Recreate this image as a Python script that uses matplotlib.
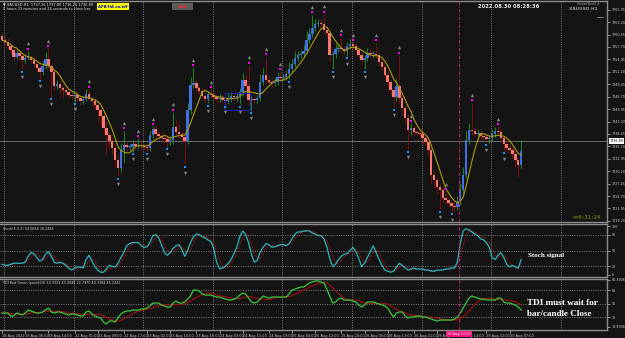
import numpy as np
import pandas as pd
import matplotlib
matplotlib.use("Agg")
import matplotlib.pyplot as plt
import matplotlib.transforms as mtransforms
from matplotlib.patches import Rectangle
from matplotlib.lines import Line2D

# ---------------- data ----------------
first_open = 1760.1
closes = [
    1759.2, 1758.8, 1757.9, 1757.0, 1755.5, 1756.4, 1755.7, 1754.8, 1755.3, 1755.5,
    1754.8, 1753.9, 1753.0, 1752.2, 1753.5, 1755.0, 1753.5, 1752.2, 1749.1, 1749.5,
    1748.6, 1748.2, 1747.7, 1747.1, 1746.8, 1747.1, 1746.4, 1745.7, 1746.2, 1747.3,
    1746.2, 1745.7, 1744.8, 1743.7, 1742.4, 1739.8, 1738.2, 1736.9, 1735.3, 1732.7,
    1730.9, 1734.9, 1736.0, 1735.6, 1735.6, 1736.2, 1735.8, 1736.0, 1735.8, 1735.6,
    1735.3, 1738.2, 1739.5, 1738.4, 1738.0, 1737.5, 1737.3, 1736.7, 1737.1, 1740.0,
    1738.9, 1738.4, 1737.8, 1736.9, 1743.7, 1749.3, 1749.7, 1748.6, 1748.0, 1746.8,
    1746.2, 1747.3, 1747.1, 1746.6, 1746.2, 1746.4, 1746.0, 1745.7, 1746.4, 1746.8,
    1746.6, 1746.8, 1747.7, 1750.4, 1749.1, 1746.0, 1746.2, 1746.0, 1746.4, 1749.9,
    1751.5, 1750.4, 1749.9, 1749.7, 1749.9, 1751.0, 1750.8, 1751.0, 1751.7, 1752.8,
    1753.9, 1755.3, 1755.9, 1756.1, 1756.8, 1759.2, 1760.6, 1761.9, 1762.8, 1763.0,
    1762.8, 1761.5, 1760.8, 1755.9, 1756.1, 1757.3, 1757.5, 1757.3, 1756.8, 1757.9,
    1758.4, 1757.9, 1757.0, 1755.9, 1754.8, 1755.3, 1756.4, 1756.1, 1756.1, 1755.9,
    1754.4, 1753.3, 1751.5, 1749.9, 1748.2, 1746.6, 1749.1, 1746.4, 1744.2, 1742.0,
    1739.3, 1739.8, 1738.9, 1738.7, 1738.4, 1737.5, 1736.7, 1734.9, 1729.4, 1728.2,
    1726.7, 1726.0, 1724.3, 1723.8, 1723.1, 1722.5, 1722.3, 1723.4, 1726.0, 1729.4,
    1737.1, 1739.3, 1739.1, 1738.4, 1738.7, 1738.0, 1737.8, 1737.3, 1737.5, 1738.4,
    1739.1, 1738.9, 1737.5, 1736.2, 1735.3, 1734.9, 1734.0, 1732.7, 1731.6, 1734.7]

upper_wick = [
    0.6, 0.4, 0.8, 0.5, 0.7, 0.9, 0.5, 0.6, 0.8, 1.3,
    0.5, 0.7, 0.4, 0.6, 1.2, 1.5, 2.4, 0.5, 0.6, 0.8,
    0.5, 0.6, 1.0, 0.4, 0.6, 0.5, 0.7, 0.4, 0.6, 1.0,
    1.1, 0.5, 0.6, 0.8, 1.2, 0.9, 1.4, 0.7, 0.6, 0.8,
    1.0, 1.5, 3.2, 0.8, 0.6, 0.9, 0.7, 1.5, 0.6, 0.5,
    0.7, 1.0, 0.6, 0.9, 0.8, 1.2, 0.6, 0.7, 0.8, 3.3,
    1.5, 2.0, 0.8, 0.6, 1.5, 1.8, 3.5, 1.0, 0.7, 0.6,
    0.8, 0.6, 1.0, 0.7, 0.5, 0.8, 0.6, 0.7, 1.2, 0.9,
    0.6, 0.8, 1.0, 1.5, 1.2, 4.6, 0.6, 0.5, 0.7, 1.8,
    1.5, 4.0, 0.8, 0.6, 0.9, 1.2, 1.2, 0.8, 1.0, 1.5,
    1.2, 1.5, 0.8, 1.0, 1.3, 2.0, 1.2, 2.9, 1.0, 0.9,
    0.8, 2.2, 0.7, 0.6, 0.8, 1.2, 0.9, 2.3, 0.6, 0.8,
    1.0, 0.3, 0.6, 0.8, 0.7, 0.6, 1.0, 0.8, 0.6, 2.5,
    0.6, 0.8, 0.5, 0.9, 0.7, 0.6, 1.5, 6.8, 0.7, 0.6,
    0.8, 1.0, 0.6, 0.7, 0.8, 0.6, 0.9, 0.7, 0.8, 1.0,
    0.7, 0.9, 0.6, 1.3, 0.7, 0.6, 0.8, 1.2, 1.5, 1.8,
    2.0, 1.5, 6.1, 0.9, 0.8, 0.7, 0.6, 0.8, 0.7, 1.2,
    0.9, 1.0, 0.7, 0.6, 0.8, 0.9, 0.7, 0.8, 0.6, 2.4]

lower_wick = [
    0.5, 0.8, 0.6, 0.9, 0.7, 0.5, 0.8, 2.0, 0.6, 0.5,
    0.7, 0.9, 0.6, 1.5, 0.8, 0.6, 0.7, 5.5, 0.9, 0.8,
    1.0, 1.8, 0.7, 0.6, 0.8, 1.2, 0.6, 0.9, 0.7, 0.5,
    0.6, 0.8, 0.9, 2.8, 2.2, 1.5, 4.5, 1.5, 1.2, 1.5,
    1.8, 0.9, 2.9, 1.2, 0.8, 1.1, 0.9, 0.7, 0.6, 0.8,
    0.7, 0.6, 0.8, 0.9, 0.7, 0.8, 0.6, 1.1, 0.7, 0.8,
    1.0, 0.8, 1.2, 5.3, 0.6, 0.8, 0.7, 0.9, 0.8, 0.6,
    0.7, 1.0, 0.8, 0.6, 0.9, 0.7, 0.6, 0.8, 0.7, 0.9,
    0.6, 0.8, 1.8, 0.9, 0.7, 1.2, 2.4, 0.8, 0.7, 0.6,
    0.7, 0.6, 0.9, 0.8, 0.7, 0.6, 0.8, 0.7, 0.6, 1.1,
    0.7, 0.6, 0.8, 0.6, 0.7, 0.5, 0.6, 0.7, 0.6, 0.5,
    0.7, 0.6, 0.8, 1.5, 3.1, 0.8, 0.7, 0.6, 0.8, 1.1,
    0.6, 0.8, 0.7, 0.9, 1.2, 2.0, 0.7, 0.6, 0.8, 0.7,
    0.8, 0.9, 0.7, 1.0, 1.2, 2.2, 0.8, 1.0, 1.5, 1.2,
    4.2, 1.0, 0.8, 0.7, 0.9, 1.2, 0.8, 1.5, 2.0, 1.8,
    1.5, 4.2, 1.0, 0.9, 0.8, 1.3, 0.8, 0.6, 0.7, 0.8,
    0.7, 0.8, 0.9, 0.7, 0.6, 0.8, 0.7, 0.7, 0.8, 0.6,
    0.7, 0.8, 0.9, 1.5, 1.0, 0.8, 1.2, 1.5, 2.6, 0.8]

top_fractals = [9, 16, 30, 42, 47, 52, 59, 66, 72, 85, 91, 96, 107, 111, 117,
                121, 129, 137, 141, 153, 162, 171]
bottom_fractals = [7, 13, 17, 25, 40, 45, 50, 57, 63, 71, 77, 82, 86, 99, 114,
                   119, 125, 135, 140, 151, 155, 167, 173]

stoch_main = [
    24, 22, 22, 24, 26, 26, 26, 26, 28, 39,
    46, 44, 37, 30, 33, 43, 48, 39, 28, 26,
    28, 26, 22, 17, 13, 17, 19, 19, 17, 33,
    41, 30, 20, 13, 9, 9, 15, 22, 20, 19,
    26, 37, 46, 59, 63, 65, 65, 65, 59, 56,
    57, 65, 78, 80, 74, 61, 46, 41, 46, 54,
    59, 61, 52, 39, 50, 65, 76, 81, 80, 76,
    74, 70, 67, 54, 28, 15, 17, 20, 26, 33,
    44, 57, 76, 87, 80, 65, 43, 28, 31, 46,
    56, 63, 61, 56, 57, 59, 61, 61, 59, 63,
    72, 81, 85, 85, 87, 87, 87, 83, 81, 78,
    78, 72, 57, 35, 20, 24, 33, 39, 43, 44,
    50, 56, 48, 35, 20, 26, 37, 48, 59, 46,
    33, 22, 13, 11, 9, 11, 19, 26, 22, 17,
    13, 15, 17, 15, 15, 15, 13, 13, 11, 11,
    13, 13, 13, 15, 15, 17, 17, 28, 63, 87,
    91, 89, 85, 81, 78, 72, 70, 65, 56, 37,
    33, 41, 46, 37, 24, 19, 22, 19, 17, 33]

tdi_green = [
    37.3, 37.3, 37.3, 33.3, 33.3, 37.3, 36.0, 34.7, 37.3, 41.3,
    40.0, 38.7, 37.3, 37.3, 38.7, 41.3, 44.0, 38.7, 37.3, 38.7,
    38.7, 37.3, 36.0, 34.7, 36.0, 36.0, 34.7, 33.3, 33.3, 38.7,
    40.0, 36.0, 33.3, 32.0, 30.7, 25.3, 22.7, 26.7, 26.7, 25.3,
    30.7, 36.0, 38.7, 40.0, 40.0, 41.3, 41.3, 41.3, 42.7, 42.7,
    44.0, 46.7, 50.7, 50.7, 50.7, 48.0, 46.7, 45.3, 45.3, 50.7,
    53.3, 50.7, 50.7, 52.0, 56.0, 60.0, 68.0, 68.0, 66.7, 62.7,
    61.3, 61.3, 61.3, 60.0, 58.7, 58.7, 57.3, 56.0, 54.7, 54.7,
    56.0, 57.3, 61.3, 64.0, 62.7, 57.3, 52.0, 50.7, 52.0, 56.0,
    60.0, 58.7, 57.3, 58.7, 58.7, 58.7, 58.7, 58.7, 58.7, 62.7,
    68.0, 69.3, 70.7, 72.0, 72.0, 74.7, 77.3, 78.7, 80.0, 80.0,
    78.7, 77.3, 69.3, 60.0, 50.7, 52.0, 56.0, 57.3, 54.7, 54.7,
    54.7, 53.3, 52.0, 48.0, 45.3, 48.0, 52.0, 52.0, 52.0, 50.7,
    49.3, 48.0, 46.7, 44.0, 37.3, 32.0, 37.3, 38.7, 38.7, 33.3,
    30.7, 32.0, 32.0, 33.3, 33.3, 32.0, 32.0, 30.7, 29.3, 28.0,
    26.7, 28.0, 28.0, 28.0, 28.0, 28.0, 29.3, 32.0, 37.3, 44.0,
    50.7, 57.3, 60.0, 58.7, 57.3, 56.0, 56.0, 54.7, 54.7, 54.7,
    54.7, 57.3, 57.3, 52.0, 50.7, 50.7, 49.3, 48.0, 45.3, 41.3]

price_levels = [1765.95, 1763.20, 1760.45, 1757.70, 1754.95, 1752.20, 1749.45,
                1746.70, 1743.95, 1741.20, 1738.45, 1735.70, 1732.95, 1730.20,
                1727.45, 1724.70, 1721.95, 1719.20]
current_price = 1736.89

x_labels = ["18 Aug 2022", "19 Aug 06:00", "19 Aug 14:00", "22 Aug 01:00",
            "22 Aug 09:00", "22 Aug 17:00", "23 Aug 02:00", "23 Aug 10:00",
            "23 Aug 18:00", "24 Aug 03:00", "24 Aug 11:00", "24 Aug 19:00",
            "25 Aug 04:00", "25 Aug 12:00", "25 Aug 20:00", "26 Aug 05:00",
            "26 Aug 13:00", "26 Aug 21:00", "29 Aug 06:00", "29 Aug 14:00",
            "29 Aug 22:00", "30 Aug 07:00"]
x_label_bars = [0, 8, 16, 25, 33, 42, 50, 58, 67, 75, 83, 92, 100, 108, 117,
                125, 133, 142, 150, 158, 167, 175]

stoch_levels = [80, 50, 20]
tdi_levels = [68, 50, 32]
cursor_label = "29 Aug 11:00"
rect_bars = (77, 85.5)
rect_prices = (1743.8, 1747.5)

# ---------------- derived ----------------
n = len(closes)
idx = np.arange(n)
c = np.array(closes)
o = np.array([first_open] + closes[:-1])
hi = np.maximum(o, c) + np.array(upper_wick)
lo = np.minimum(o, c) - np.array(lower_wick)
ma = pd.Series(c).rolling(6, min_periods=1).mean().values
stoch_sig = pd.Series(stoch_main).rolling(3, min_periods=1).mean().values
tdi_red = pd.Series(tdi_green).rolling(7, min_periods=1).mean().values

# ---------------- figure ----------------
W, H = 625, 338
BG = '#141414'
GRID = '#8a8a8a'
SPINE = '#8c8c8c'
fig = plt.figure(figsize=(W / 100, H / 100), dpi=100)
fig.patch.set_facecolor(BG)


def rect(x0, y0, x1, y1):
    return [x0 / W, 1 - y1 / H, (x1 - x0) / W, (y1 - y0) / H]


def fx(x):
    return x / W


def fy(y):
    return 1 - y / H


ax = fig.add_axes(rect(0, 1, 607, 222))
ax2 = fig.add_axes(rect(0, 224, 607, 277), sharex=ax)
ax3 = fig.add_axes(rect(0, 279, 607, 330), sharex=ax)

day_lines = np.arange(0.7, 205, 24.0)
cursor_bar = 157.6

for a in (ax, ax2, ax3):
    a.set_facecolor(BG)
    for s in ('top', 'right', 'bottom'):
        a.spines[s].set_color(SPINE)
        a.spines[s].set_linewidth(1.0)
    a.spines['left'].set_visible(False)
    for d in day_lines:
        a.axvline(d, color=GRID, lw=0.6, ls=(0, (1.2, 1.6)), zorder=1)
    a.axvline(cursor_bar, color='#b0226e', lw=0.8, ls=(0, (3, 1.5, 1, 1.5)), zorder=6)
    a.yaxis.tick_right()
    a.tick_params(axis='y', length=2, width=0.5, pad=1.2, labelsize=2.4,
                  colors='#c8c8c8')

ax.set_xlim(-0.69, 208.6)

# ---- main panel ----
ax.set_ylim(1718.95, 1767.88)
up = c >= o
wick_col = np.where(up, '#1f9a1f', '#8e0c0c')
ax.vlines(idx, lo, hi, colors=wick_col, lw=0.6, zorder=2)
body_h = np.maximum(np.abs(c - o), 0.2)
body_b = np.minimum(o, c)
ax.bar(idx, body_h, bottom=body_b, width=0.86,
       color=np.where(up, '#3f6fe0', '#f4796c'), edgecolor='none', zorder=3)
ax.plot(idx, ma, color='#a89a10', lw=0.8, zorder=4)
ax.axhline(current_price, color='#6a6a6a', lw=0.7, zorder=1)
ax.add_patch(Rectangle((rect_bars[0], rect_prices[0]), rect_bars[1] - rect_bars[0],
                       rect_prices[1] - rect_prices[0], fill=False,
                       edgecolor='#2323b8', lw=0.7, zorder=5))

tf = np.array(top_fractals)
bf = np.array(bottom_fractals)
ax.scatter(tf, hi[tf] + 0.55, s=2.2, marker='s', color='#ff00ff', lw=0, zorder=6)
ax.scatter(tf, hi[tf] + 1.7, s=6, marker='^', color='#808080', lw=0, zorder=6)
ax.scatter(bf, lo[bf] - 0.55, s=2.2, marker='s', color='#1e90ff', lw=0, zorder=6)
ax.scatter(bf, lo[bf] - 1.7, s=6, marker='v', color='#808080', lw=0, zorder=6)

ax.set_yticks(price_levels)
ax.set_yticklabels([f"{p:.2f}" for p in price_levels])
ax.tick_params(axis='x', bottom=False, labelbottom=False)
blend = mtransforms.blended_transform_factory(ax.transAxes, ax.transData)
ax.text(1.004, current_price, f"{current_price:.2f}", transform=blend,
        ha='left', va='center', fontsize=2.4, color='black',
        bbox=dict(facecolor='white', edgecolor='none', pad=0.4), zorder=10)

# ---- stochastic panel ----
ax2.set_ylim(0, 100)
for lv in stoch_levels:
    ax2.axhline(lv, color=GRID, lw=0.6, ls=(0, (1.2, 1.6)), zorder=1)
ax2.plot(idx, stoch_main, color='#2cb5bd', lw=0.9, zorder=4)
ax2.plot(idx, stoch_sig, color='#d41010', lw=0.6, ls=(0, (1, 1)), zorder=3)
ax2.set_yticks([96, 80, 50, 20, 4])
ax2.set_yticklabels(["100", "80", "50", "20", "0"])
ax2.tick_params(axis='x', bottom=False, labelbottom=False)

# ---- TDI panel ----
ax3.set_ylim(14.7, 82.7)
for lv in tdi_levels:
    ax3.axhline(lv, color=GRID, lw=0.6, ls=(0, (1.2, 1.6)), zorder=1)
ax3.plot(idx, tdi_red, color='#a01010', lw=0.8, zorder=3)
ax3.plot(idx, tdi_green, color='#3cc83c', lw=0.9, zorder=4)
ax3.set_yticks([81.3906, 68, 50, 32, 18.8906])
ax3.set_yticklabels(["81.3906", "68", "50", "32", "18.8906"])
ax3.set_xticks(x_label_bars)
ax3.set_xticklabels(x_labels)
ax3.tick_params(axis='x', length=2, width=0.5, pad=1.0, labelsize=2.5,
                colors='#c8c8c8')
for lbl in ax3.get_xticklabels():
    lbl.set_ha('left')
blend3 = mtransforms.blended_transform_factory(ax3.transData, ax3.transAxes)
ax3.text(cursor_bar, -0.085, cursor_label, transform=blend3, ha='center',
         va='center', fontsize=2.5, color='white', clip_on=False,
         bbox=dict(facecolor='#f0147f', edgecolor='none', pad=0.8), zorder=10)

# ---------------- texts ----------------
sm = dict(fontsize=2.6, color='#e4e4e4', va='center', ha='left')
fig.text(fx(3), fy(4.5), "\u25bc XAUUSD,H1  1737.26 1737.80 1736.25 1736.89", **sm)
fig.text(fx(3), fy(9.5), "0 hours 31 minutes and 24 seconds to close bar", **sm)

fig.add_artist(Rectangle((fx(97), fy(10)), (129 - 97) / W, 7 / H,
                         transform=fig.transFigure, facecolor='#ffff00',
                         edgecolor='none', zorder=10))
fig.text(fx(113), fy(6.5), "APB/HA on/off", fontsize=2.7, color='#1010c0',
         weight='bold', ha='center', va='center', zorder=11)
fig.add_artist(Rectangle((fx(172), fy(10)), (193 - 172) / W, 7 / H,
                         transform=fig.transFigure, facecolor='#5c5c5c',
                         edgecolor='none', zorder=10))
fig.text(fx(182.5), fy(6.5), "S&R", fontsize=3.0, color='#ff2a2a',
         weight='bold', ha='center', va='center', zorder=11)

fig.text(fx(478), fy(6), "2022.08.30 08:28:36", fontsize=3.8, color='#e8e8e8',
         weight='bold', ha='left', va='center')
fig.text(fx(600), fy(4), "ScreenShot4 \u2699", fontsize=2.2, color='#a8a8a8',
         ha='right', va='center')
fig.text(fx(598), fy(9), "XAUUSD H1", fontsize=3.2, color='#9a9a9a',
         weight='bold', ha='right', va='center')
fig.add_artist(Line2D([fx(597), fx(603)], [fy(17), fy(17)],
                      transform=fig.transFigure, color='#8a8a8a', lw=0.6))
fig.text(fx(573), fy(217.5), ">>0:31:24", fontsize=3.7, color='#a89e00',
         ha='left', va='center', family='DejaVu Sans Mono')

fig.text(fx(3), fy(228.5), "Stoch(5,3,3) 34.0688 30.2484", fontsize=2.4,
         color='#d0d0d0', ha='left', va='center')
fig.text(fx(3), fy(283), "TDI Red Green (post#23) 43.3321 43.0046 22.7970 40.3384 45.2442",
         fontsize=2.4, color='#d0d0d0', ha='left', va='center')

big = dict(color='white', weight='bold', family='Liberation Serif',
           ha='left', va='center')
fig.text(fx(528), fy(255), "Stoch signal", fontsize=5.0, **big)
fig.text(fx(527), fy(303), "TDI must wait for", fontsize=6.6, **big)
fig.text(fx(527), fy(314), "bar/candle Close", fontsize=6.6, **big)

fig.savefig("out.png", dpi=100, facecolor=BG)
